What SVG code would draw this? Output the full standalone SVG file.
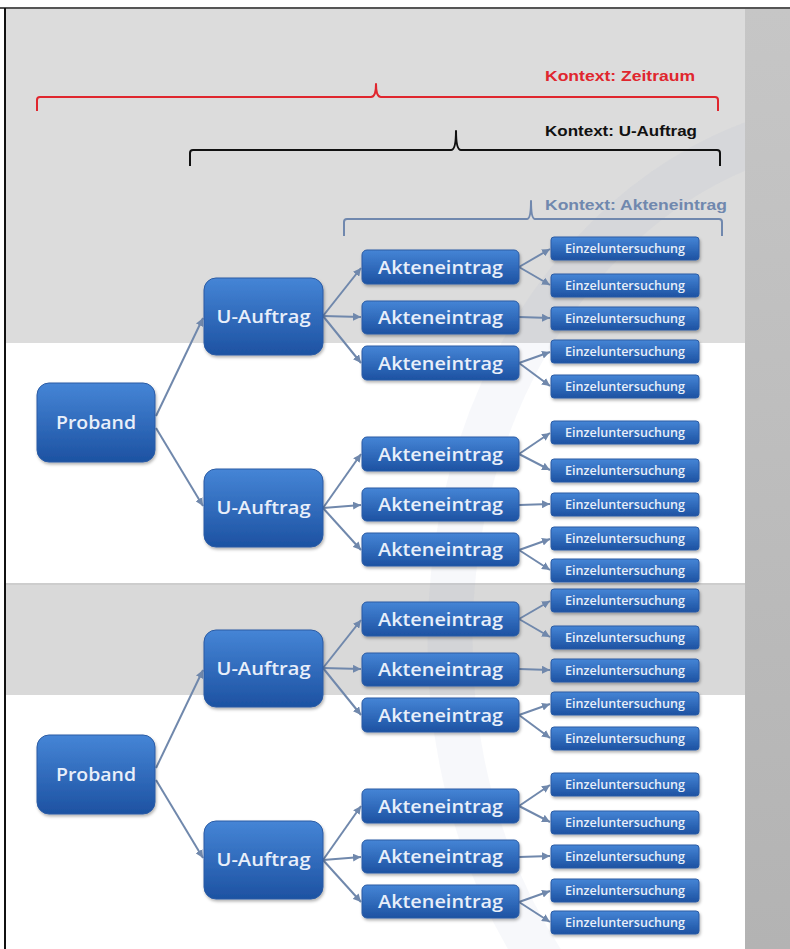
<svg xmlns="http://www.w3.org/2000/svg" width="790" height="949" viewBox="0 0 790 949">
  <style>
    .node rect { fill: url(#nodeFill); stroke: #2a5ba4; stroke-width: 1; filter: url(#shadow); }
    .big { font-family: "Open Sans", "Noto Sans", sans-serif; font-size: 18.5px; font-weight: 600; fill: #e8effa; text-anchor: middle; }
    .small { font-family: "Open Sans", "Noto Sans", sans-serif; font-size: 12px; font-weight: 600; fill: #e8effa; text-anchor: middle; }
    .edge { fill: none; stroke: #7088ac; stroke-width: 2; marker-end: url(#arrow); }
    .ctx { font-family: "Liberation Sans", Arial, sans-serif; font-size: 15px; font-weight: bold; }
    .brace { fill: none; stroke-width: 2; stroke-linejoin: round; }
  </style>
  <defs>
    <linearGradient id="nodeFill" x1="0" y1="0" x2="0" y2="1">
      <stop offset="0" stop-color="#4585d6"/>
      <stop offset="1" stop-color="#1d52a2"/>
    </linearGradient>
    <linearGradient id="colFill" x1="0" y1="0" x2="0" y2="1">
      <stop offset="0" stop-color="#c6c6c6"/>
      <stop offset="1" stop-color="#b3b3b3"/>
    </linearGradient>
    <filter id="shadow" x="-10%" y="-20%" width="130%" height="150%">
      <feDropShadow dx="1" dy="2" stdDeviation="1.5" flood-color="#000" flood-opacity="0.3"/>
    </filter>
    <marker id="arrow" markerUnits="userSpaceOnUse" markerWidth="9" markerHeight="8" refX="8" refY="4" orient="auto">
      <path d="M0,0 L8,4 L0,8 Z" fill="#7088ac"/>
    </marker>
    <clipPath id="page"><rect x="6" y="9" width="739" height="940"/></clipPath>
  </defs>

  <!-- page background and bands -->
  <rect width="790" height="949" fill="#ffffff"/>
  <rect x="6" y="9" width="739" height="334" fill="#dcdcdc"/>
  <rect x="6" y="585" width="739" height="110" fill="#d9d9d9"/>
  <line x1="6" y1="584" x2="745" y2="584" stroke="#cdcdcd" stroke-width="2"/>
  <!-- faint ring watermark -->
  <ellipse cx="880" cy="640" rx="430" ry="520" fill="none" stroke="#8aa0c0" stroke-width="45" stroke-opacity="0.07" clip-path="url(#page)"/>
  <rect x="745" y="9" width="45" height="940" fill="url(#colFill)"/>
  <line x1="0" y1="8" x2="790" y2="8" stroke="#555555" stroke-width="2"/>
  <line x1="5" y1="8" x2="5" y2="949" stroke="#111111" stroke-width="2"/>

  <!-- context braces -->
  <g id="ctx-zeitraum">
    <path class="brace" stroke="#e0262e" d="M37,111 L37,100 Q37,97 40,97 L371,97 Q376,97 376,84 Q376,97 381,97 L715,97 Q718,97 718,100 L718,111"/>
    <text class="ctx" x="545" y="81" fill="#e0262e" textLength="150" lengthAdjust="spacingAndGlyphs">Kontext: Zeitraum</text>
  </g>
  <g id="ctx-uauftrag">
    <path class="brace" stroke="#111111" d="M190,166 L190,153 Q190,150 193,150 L451,150 Q456,150 456,131 Q456,150 461,150 L717,150 Q720,150 720,153 L720,166"/>
    <text class="ctx" x="545" y="136" fill="#111111" textLength="152" lengthAdjust="spacingAndGlyphs">Kontext: U-Auftrag</text>
  </g>
  <g id="ctx-akteneintrag">
    <path class="brace" stroke="#7088ae" d="M344,236 L344,222 Q344,219 347,219 L527,219 Q531,219 531,201 Q531,219 535,219 L719,219 Q722,219 722,222 L722,236"/>
    <text class="ctx" x="545" y="210" fill="#7088ae" font-weight="normal" textLength="182" lengthAdjust="spacingAndGlyphs">Kontext: Akteneintrag</text>
  </g>

  <!-- connectors -->
  <g id="connectors">
    <path class="edge" d="M156,416 L203,318"/>
    <path class="edge" d="M156,428 L203,506"/>
    <path class="edge" d="M323,316 L361,268"/>
    <path class="edge" d="M323,316 L361,317"/>
    <path class="edge" d="M323,316 L361,363"/>
    <path class="edge" d="M323,508 L361,454"/>
    <path class="edge" d="M323,508 L361,505"/>
    <path class="edge" d="M323,508 L361,550"/>
    <path class="edge" d="M519,267 L550,249"/>
    <path class="edge" d="M519,267 L550,285"/>
    <path class="edge" d="M519,317 L550,318"/>
    <path class="edge" d="M519,363 L550,352"/>
    <path class="edge" d="M519,363 L550,386"/>
    <path class="edge" d="M519,454 L550,433"/>
    <path class="edge" d="M519,454 L550,470"/>
    <path class="edge" d="M519,505 L550,504"/>
    <path class="edge" d="M519,550 L550,539"/>
    <path class="edge" d="M519,550 L550,570"/>

    <path class="edge" d="M156,768 L203,670"/>
    <path class="edge" d="M156,780 L203,858"/>
    <path class="edge" d="M323,668 L361,620"/>
    <path class="edge" d="M323,668 L361,669"/>
    <path class="edge" d="M323,668 L361,715"/>
    <path class="edge" d="M323,860 L361,806"/>
    <path class="edge" d="M323,860 L361,857"/>
    <path class="edge" d="M323,860 L361,902"/>
    <path class="edge" d="M519,619 L550,601"/>
    <path class="edge" d="M519,619 L550,637"/>
    <path class="edge" d="M519,669 L550,670"/>
    <path class="edge" d="M519,715 L550,704"/>
    <path class="edge" d="M519,715 L550,738"/>
    <path class="edge" d="M519,806 L550,785"/>
    <path class="edge" d="M519,806 L550,822"/>
    <path class="edge" d="M519,857 L550,856"/>
    <path class="edge" d="M519,902 L550,891"/>
    <path class="edge" d="M519,902 L550,922"/>
  </g>

  <!-- first hierarchy -->
  <g id="proband-1" class="node"><rect x="37" y="383" width="118" height="79" rx="12"/><text class="big" x="96" y="429" textLength="80" lengthAdjust="spacingAndGlyphs">Proband</text></g>
  <g id="uauftrag-1" class="node"><rect x="204" y="278" width="119" height="77" rx="12"/><text class="big" x="263.5" y="323" textLength="94" lengthAdjust="spacingAndGlyphs">U-Auftrag</text></g>
  <g id="uauftrag-2" class="node"><rect x="204" y="469" width="119" height="78" rx="12"/><text class="big" x="263.5" y="514" textLength="94" lengthAdjust="spacingAndGlyphs">U-Auftrag</text></g>
  <g id="akte-1" class="node"><rect x="362" y="250" width="157" height="34" rx="5"/><text class="big" x="440.5" y="273.5" textLength="125" lengthAdjust="spacingAndGlyphs">Akteneintrag</text></g>
  <g id="akte-2" class="node"><rect x="362" y="301" width="157" height="33" rx="5"/><text class="big" x="440.5" y="324" textLength="125" lengthAdjust="spacingAndGlyphs">Akteneintrag</text></g>
  <g id="akte-3" class="node"><rect x="362" y="346" width="157" height="34" rx="5"/><text class="big" x="440.5" y="369.5" textLength="125" lengthAdjust="spacingAndGlyphs">Akteneintrag</text></g>
  <g id="akte-4" class="node"><rect x="362" y="437" width="157" height="34" rx="5"/><text class="big" x="440.5" y="460.5" textLength="125" lengthAdjust="spacingAndGlyphs">Akteneintrag</text></g>
  <g id="akte-5" class="node"><rect x="362" y="488" width="157" height="33" rx="5"/><text class="big" x="440.5" y="511" textLength="125" lengthAdjust="spacingAndGlyphs">Akteneintrag</text></g>
  <g id="akte-6" class="node"><rect x="362" y="533" width="157" height="33" rx="5"/><text class="big" x="440.5" y="556" textLength="125" lengthAdjust="spacingAndGlyphs">Akteneintrag</text></g>
  <g id="einzel-1" class="node"><rect x="551" y="237" width="148" height="23" rx="3"/><text class="small" x="625" y="252.5" textLength="120" lengthAdjust="spacingAndGlyphs">Einzeluntersuchung</text></g>
  <g id="einzel-2" class="node"><rect x="551" y="274" width="148" height="23" rx="3"/><text class="small" x="625" y="289.5" textLength="120" lengthAdjust="spacingAndGlyphs">Einzeluntersuchung</text></g>
  <g id="einzel-3" class="node"><rect x="551" y="307" width="148" height="23" rx="3"/><text class="small" x="625" y="322.5" textLength="120" lengthAdjust="spacingAndGlyphs">Einzeluntersuchung</text></g>
  <g id="einzel-4" class="node"><rect x="551" y="340" width="148" height="23" rx="3"/><text class="small" x="625" y="355.5" textLength="120" lengthAdjust="spacingAndGlyphs">Einzeluntersuchung</text></g>
  <g id="einzel-5" class="node"><rect x="551" y="375" width="148" height="23" rx="3"/><text class="small" x="625" y="390.5" textLength="120" lengthAdjust="spacingAndGlyphs">Einzeluntersuchung</text></g>
  <g id="einzel-6" class="node"><rect x="551" y="421" width="148" height="23" rx="3"/><text class="small" x="625" y="436.5" textLength="120" lengthAdjust="spacingAndGlyphs">Einzeluntersuchung</text></g>
  <g id="einzel-7" class="node"><rect x="551" y="459" width="148" height="23" rx="3"/><text class="small" x="625" y="474.5" textLength="120" lengthAdjust="spacingAndGlyphs">Einzeluntersuchung</text></g>
  <g id="einzel-8" class="node"><rect x="551" y="493" width="148" height="23" rx="3"/><text class="small" x="625" y="508.5" textLength="120" lengthAdjust="spacingAndGlyphs">Einzeluntersuchung</text></g>
  <g id="einzel-9" class="node"><rect x="551" y="527" width="148" height="23" rx="3"/><text class="small" x="625" y="542.5" textLength="120" lengthAdjust="spacingAndGlyphs">Einzeluntersuchung</text></g>
  <g id="einzel-10" class="node"><rect x="551" y="559" width="148" height="23" rx="3"/><text class="small" x="625" y="574.5" textLength="120" lengthAdjust="spacingAndGlyphs">Einzeluntersuchung</text></g>

  <!-- second hierarchy -->
  <g id="proband-2" class="node"><rect x="37" y="735" width="118" height="79" rx="12"/><text class="big" x="96" y="781" textLength="80" lengthAdjust="spacingAndGlyphs">Proband</text></g>
  <g id="uauftrag-3" class="node"><rect x="204" y="630" width="119" height="77" rx="12"/><text class="big" x="263.5" y="675" textLength="94" lengthAdjust="spacingAndGlyphs">U-Auftrag</text></g>
  <g id="uauftrag-4" class="node"><rect x="204" y="821" width="119" height="78" rx="12"/><text class="big" x="263.5" y="866" textLength="94" lengthAdjust="spacingAndGlyphs">U-Auftrag</text></g>
  <g id="akte-7" class="node"><rect x="362" y="602" width="157" height="34" rx="5"/><text class="big" x="440.5" y="625.5" textLength="125" lengthAdjust="spacingAndGlyphs">Akteneintrag</text></g>
  <g id="akte-8" class="node"><rect x="362" y="653" width="157" height="33" rx="5"/><text class="big" x="440.5" y="676" textLength="125" lengthAdjust="spacingAndGlyphs">Akteneintrag</text></g>
  <g id="akte-9" class="node"><rect x="362" y="698" width="157" height="34" rx="5"/><text class="big" x="440.5" y="721.5" textLength="125" lengthAdjust="spacingAndGlyphs">Akteneintrag</text></g>
  <g id="akte-10" class="node"><rect x="362" y="789" width="157" height="34" rx="5"/><text class="big" x="440.5" y="812.5" textLength="125" lengthAdjust="spacingAndGlyphs">Akteneintrag</text></g>
  <g id="akte-11" class="node"><rect x="362" y="840" width="157" height="33" rx="5"/><text class="big" x="440.5" y="863" textLength="125" lengthAdjust="spacingAndGlyphs">Akteneintrag</text></g>
  <g id="akte-12" class="node"><rect x="362" y="885" width="157" height="33" rx="5"/><text class="big" x="440.5" y="908" textLength="125" lengthAdjust="spacingAndGlyphs">Akteneintrag</text></g>
  <g id="einzel-11" class="node"><rect x="551" y="589" width="148" height="23" rx="3"/><text class="small" x="625" y="604.5" textLength="120" lengthAdjust="spacingAndGlyphs">Einzeluntersuchung</text></g>
  <g id="einzel-12" class="node"><rect x="551" y="626" width="148" height="23" rx="3"/><text class="small" x="625" y="641.5" textLength="120" lengthAdjust="spacingAndGlyphs">Einzeluntersuchung</text></g>
  <g id="einzel-13" class="node"><rect x="551" y="659" width="148" height="23" rx="3"/><text class="small" x="625" y="674.5" textLength="120" lengthAdjust="spacingAndGlyphs">Einzeluntersuchung</text></g>
  <g id="einzel-14" class="node"><rect x="551" y="692" width="148" height="23" rx="3"/><text class="small" x="625" y="707.5" textLength="120" lengthAdjust="spacingAndGlyphs">Einzeluntersuchung</text></g>
  <g id="einzel-15" class="node"><rect x="551" y="727" width="148" height="23" rx="3"/><text class="small" x="625" y="742.5" textLength="120" lengthAdjust="spacingAndGlyphs">Einzeluntersuchung</text></g>
  <g id="einzel-16" class="node"><rect x="551" y="773" width="148" height="23" rx="3"/><text class="small" x="625" y="788.5" textLength="120" lengthAdjust="spacingAndGlyphs">Einzeluntersuchung</text></g>
  <g id="einzel-17" class="node"><rect x="551" y="811" width="148" height="23" rx="3"/><text class="small" x="625" y="826.5" textLength="120" lengthAdjust="spacingAndGlyphs">Einzeluntersuchung</text></g>
  <g id="einzel-18" class="node"><rect x="551" y="845" width="148" height="23" rx="3"/><text class="small" x="625" y="860.5" textLength="120" lengthAdjust="spacingAndGlyphs">Einzeluntersuchung</text></g>
  <g id="einzel-19" class="node"><rect x="551" y="879" width="148" height="23" rx="3"/><text class="small" x="625" y="894.5" textLength="120" lengthAdjust="spacingAndGlyphs">Einzeluntersuchung</text></g>
  <g id="einzel-20" class="node"><rect x="551" y="911" width="148" height="23" rx="3"/><text class="small" x="625" y="926.5" textLength="120" lengthAdjust="spacingAndGlyphs">Einzeluntersuchung</text></g>
</svg>
